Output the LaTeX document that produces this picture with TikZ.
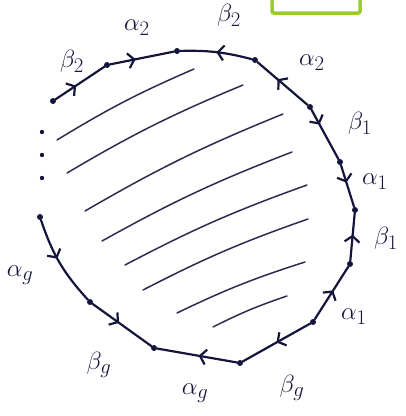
\documentclass[tikz,border=0pt]{standalone}
\usepackage{amsmath,amssymb}
\usetikzlibrary{arrows.meta,decorations.markings}
\definecolor{SurfaceInk}{HTML}{15153C}
\definecolor{MarkerGreen}{HTML}{9CCB2C}

\tikzset{
  vertex/.style={circle,fill=SurfaceInk,inner sep=0pt,minimum size=6pt},
  side/.style={draw=SurfaceInk,line width=2.2pt,line cap=round},
  arr/.style={postaction={decorate,decoration={markings,
      mark=at position #1 with {\arrow{Straight Barb[length=6pt,width=15pt]}}}}},
  hatch/.style={draw=SurfaceInk!90,line width=1.5pt,line cap=round},
  lbl/.style={text=SurfaceInk,inner sep=0pt}
}

\begin{document}
\begin{tikzpicture}[x=1pt,y=-1pt,font=\fontsize{28}{32}\selectfont]
  \useasboundingbox (0,0) rectangle (406,416);

  \foreach \n/\p in {0/{53,101},1/{107,65},2/{177,51},3/{255,60},4/{310,107},
                     5/{340,162},6/{355,210},7/{350,264},8/{313,322},9/{240,363},
                     10/{154,348},11/{90,302},12/{40,217}}
    \node[vertex] (v\n) at (\p) {};

  \draw[side,arr=.42] (v0) -- (v1);
  \draw[side,arr=.4] (v1) -- (v2);
  \draw[side,arr=.5] (v3) to[bend right=8] (v2);
  \draw[side,arr=.6] (v4) -- (v3);
  \draw[side,arr=.3] (v4) -- (v5);
  \draw[side,arr=.42] (v5) -- (v6);
  \draw[side,arr=.55] (v7) -- (v6);
  \draw[side,arr=.55] (v8) -- (v7);
  \draw[side,arr=.5] (v8) -- (v9);
  \draw[side,arr=.48] (v9) -- (v10);
  \draw[side,arr=.45] (v11) -- (v10);
  \draw[side,arr=.45] (v12) to[bend right=12] (v11);

  \foreach \y in {132,155,178}
    \fill[SurfaceInk] (42,\y) circle (2.2pt);

  \foreach \a/\b in {{57,140}/{194,69},{67,173}/{243,85},{85,211}/{283,114},
                     {102,241}/{292,152},{125,265}/{307,185},{143,290}/{308,219},
                     {177,313}/{305,262},{213,327}/{287,296}}
    \draw[hatch] (\a) to[bend left=4] (\b);

  \foreach \n/\p/\t in {b2l/{72,61}/{$\beta_2$},a2t/{137,28}/{$\alpha_2$},
                        b2t/{229,15}/{$\beta_2$},a2r/{312,63}/{$\alpha_2$},
                        b1a/{360,123}/{$\beta_1$},a1a/{375,182}/{$\alpha_1$},
                        b1b/{386,238}/{$\beta_1$},a1b/{354,317}/{$\alpha_1$},
                        bgr/{292,388}/{$\beta_g$},agb/{195,393}/{$\alpha_g$},
                        bgl/{99,365}/{$\beta_g$},agl/{20,275}/{$\alpha_g$}}
    \node[lbl] (\n) at (\p) {\t};

  \draw[MarkerGreen,line width=3.5pt,rounded corners=2pt] (272,0) -- (272,13) -- (360,13) -- (360,0);
\end{tikzpicture}
\end{document}
